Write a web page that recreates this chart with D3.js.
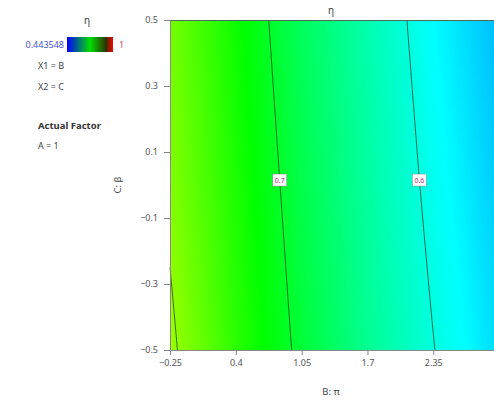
<!DOCTYPE html>
<html>
<head>
<meta charset="utf-8">
<script src="https://cdnjs.cloudflare.com/ajax/libs/d3/7.8.5/d3.min.js"></script>
<style>
  body { margin: 0; background: #fff; }
  svg { font-family: "Noto Sans", "Open Sans", sans-serif; }
</style>
</head>
<body>
<div id="chart"></div>
<script>
// response values (eta), on a B x C grid
const bGrid = [-0.25, 0.4, 1.05, 1.7, 2.35, 2.95];
const cGrid = [0.5, 0, -0.5];
const etaTop = [0.785, 0.728, 0.672, 0.627, 0.582, 0.548];
const etaMid = [0.793, 0.737, 0.682, 0.635, 0.591, 0.556];
const etaBot = [0.807, 0.745, 0.692, 0.643, 0.601, 0.565];
const etaRows = [etaTop, etaMid, etaBot];
const levels = [0.6, 0.7, 0.8];
const labelled = [0.6, 0.7];
const xTicks = [-0.25, 0.4, 1.05, 1.7, 2.35];
const yTicks = [-0.5, -0.3, -0.1, 0.1, 0.3, 0.5];
const etaMin = 0.443548, etaMax = 1;

const W = 494, H = 403;
const svg = d3.select('#chart').append('svg').attr('width', W).attr('height', H);

const x = d3.scaleLinear().domain([-0.25, 2.95]).range([170, 494]);
const y = d3.scaleLinear().domain([-0.5, 0.5]).range([350, 20]);

// field value by bilinear lookup in the read grid
function eta(b, c) {
  let i = d3.bisectRight(bGrid, b) - 1;
  i = Math.max(0, Math.min(bGrid.length - 2, i));
  const tb = (b - bGrid[i]) / (bGrid[i + 1] - bGrid[i]);
  let j = 0;
  if (c < cGrid[1]) j = 1;
  const tc = (c - cGrid[j]) / (cGrid[j + 1] - cGrid[j]);
  const r0 = etaRows[j][i] * (1 - tb) + etaRows[j][i + 1] * tb;
  const r1 = etaRows[j + 1][i] * (1 - tb) + etaRows[j + 1][i + 1] * tb;
  return r0 * (1 - tc) + r1 * tc;
}

const color = d3.scaleLinear()
  .domain(d3.range(5).map(k => etaMin + k * (etaMax - etaMin) / 4))
  .range(['#0000ff', '#00ffff', '#00ff00', '#ffff00', '#ff0000'])
  .clamp(true);

// filled surface
const pw = Math.round(x.range()[1] - x.range()[0]), ph = Math.round(y.range()[0] - y.range()[1]);
const canvas = document.createElement('canvas');
canvas.width = pw; canvas.height = ph;
const ctx = canvas.getContext('2d');
const img = ctx.createImageData(pw, ph);
for (let py = 0; py < ph; py++) {
  const c = y.invert(20 + py + 0.5);
  for (let px = 0; px < pw; px++) {
    const b = x.invert(170 + px + 0.5);
    const col = d3.rgb(color(eta(b, c)));
    const k = (py * pw + px) * 4;
    img.data[k] = col.r; img.data[k + 1] = col.g; img.data[k + 2] = col.b; img.data[k + 3] = 255;
  }
}
ctx.putImageData(img, 0, 0);
svg.append('image').attr('x', 170).attr('y', 20).attr('width', pw).attr('height', ph)
  .attr('href', canvas.toDataURL());

// contour lines: crossing of each level along horizontal rows
const cSteps = d3.range(0, 101).map(k => 0.5 - k / 100);
function crossing(level, c) {
  for (let i = 0; i < 320; i++) {
    const b0 = x.invert(170 + i), b1 = x.invert(171 + i);
    const v0 = eta(b0, c), v1 = eta(b1, c);
    if ((v0 - level) * (v1 - level) <= 0 && v0 !== v1) {
      return b0 + (level - v0) / (v1 - v0) * (b1 - b0);
    }
  }
  return null;
}
const line = d3.line().defined(d => d[0] !== null).x(d => x(d[0])).y(d => y(d[1]));
levels.forEach(lv => {
  const pts = cSteps.map(c => [crossing(lv, c), c]);
  svg.append('path').attr('d', line(pts)).attr('fill', 'none')
    .attr('stroke', '#1f3f1f').attr('stroke-width', 0.9).attr('opacity', 0.85);
});

labelled.forEach(lv => {
  const cl = 0.015, bl = crossing(lv, cl);
  const g = svg.append('g').attr('transform', `translate(${x(bl)},${y(cl)})`);
  g.append('rect').attr('x', -7).attr('y', -6).attr('width', 14).attr('height', 12)
    .attr('fill', '#fff').attr('stroke', '#888').attr('stroke-width', 0.5);
  g.append('text').attr('text-anchor', 'middle').attr('dy', '0.35em')
    .attr('font-size', 7).attr('fill', '#b03080').text(d3.format('.1f')(lv));
});

// frame and axes
svg.append('line').attr('x1', 170).attr('x2', 494).attr('y1', 20.5).attr('y2', 20.5)
  .attr('stroke', '#4a6a5a').attr('stroke-width', 1);

const xAxis = svg.append('g').attr('transform', 'translate(0,350)')
  .call(d3.axisBottom(x).tickValues(xTicks).tickSize(5).tickPadding(5).tickFormat(d3.format('')));
const yAxis = svg.append('g').attr('transform', 'translate(170,0)')
  .call(d3.axisLeft(y).tickValues(yTicks).tickSize(6).tickPadding(6).tickFormat(d3.format('')));
[xAxis, yAxis].forEach(a => {
  a.select('.domain').attr('stroke', '#888');
  a.selectAll('.tick line').attr('stroke', '#888');
  a.selectAll('.tick text').attr('fill', '#555').attr('font-size', 9)
    .attr('font-family', '"Noto Sans", sans-serif');
});

svg.append('text').attr('x', 331).attr('y', 14).attr('text-anchor', 'middle')
  .attr('font-size', 10).attr('fill', '#444').text('η');
svg.append('text').attr('x', 331).attr('y', 395).attr('text-anchor', 'middle')
  .attr('font-size', 9.5).attr('fill', '#444').text('B: π');
svg.append('text').attr('transform', 'translate(121,185) rotate(-90)').attr('text-anchor', 'middle')
  .attr('font-size', 9.5).attr('fill', '#444').text('C: β');

// legend
const lg = svg.append('g');
const defs = svg.append('defs');
const grad = defs.append('linearGradient').attr('id', 'lgrad');
[['0%', '#0000ff'], ['50%', '#00e000'], ['85%', '#303000'], ['100%', '#ff0000']].forEach(s =>
  grad.append('stop').attr('offset', s[0]).attr('stop-color', s[1]));
lg.append('text').attr('x', 87).attr('y', 24).attr('text-anchor', 'middle')
  .attr('font-size', 10).attr('fill', '#444').text('η');
lg.append('rect').attr('x', 67).attr('y', 37).attr('width', 46).attr('height', 15).attr('fill', 'url(#lgrad)');
lg.append('text').attr('x', 64).attr('y', 48).attr('text-anchor', 'end')
  .attr('font-size', 9).attr('fill', '#4455cc').text(etaMin);
lg.append('text').attr('x', 119).attr('y', 48)
  .attr('font-size', 9).attr('fill', '#e04070').text(etaMax);
[['X1 = B', 69], ['X2 = C', 90], ['A = 1', 149]].forEach(t =>
  lg.append('text').attr('x', 38).attr('y', t[1]).attr('font-size', 9).attr('fill', '#444').text(t[0]));
lg.append('text').attr('x', 38).attr('y', 129).attr('font-size', 9.5).attr('font-weight', 'bold')
  .attr('fill', '#333').text('Actual Factor');
</script>
</body>
</html>
